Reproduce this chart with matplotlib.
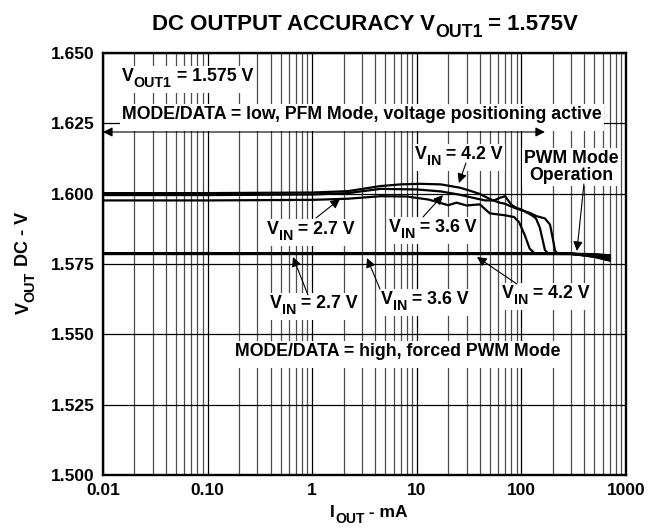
import numpy as np
import matplotlib
matplotlib.use("Agg")
import matplotlib.pyplot as plt
from matplotlib.transforms import IdentityTransform
from matplotlib.patches import Rectangle

plt.rcParams['font.family'] = ['Liberation Sans', 'DejaVu Sans']
plt.rcParams['font.weight'] = 'bold'

# ---------------- data (I in mA, V in volts) ----------------
pfm42_i = [0.01, 0.1, 1, 2.2, 4.5, 7, 10.7, 17, 26, 32, 40, 50, 55, 62, 70, 78, 87,
           97, 120, 140, 168, 188, 200, 210, 222, 300, 500, 700]
pfm42_v = [1.6002, 1.6002, 1.6004, 1.6009, 1.6027, 1.6033, 1.6035, 1.6033, 1.6021, 1.6011,
           1.5999, 1.5981, 1.5975, 1.5968, 1.5964, 1.5956, 1.5949, 1.5943, 1.5932, 1.5920,
           1.5912, 1.5890, 1.5840, 1.5797, 1.5787, 1.5786, 1.5776, 1.5763]

pfm36_i = [0.01, 0.1, 1, 2.2, 4.5, 10, 17, 26, 32, 45, 55, 62, 70, 80, 90, 100, 110,
           125, 138, 150, 160, 168, 180, 300, 500, 700]
pfm36_v = [1.5995, 1.5995, 1.5997, 1.6002, 1.6017, 1.6015, 1.6008, 1.5996, 1.5988, 1.5976,
           1.5976, 1.5985, 1.5991, 1.5961, 1.5949, 1.5944, 1.5935, 1.5924, 1.5912, 1.5880,
           1.5835, 1.5800, 1.5787, 1.5786, 1.5780, 1.5771]

pfm27_i = [0.01, 0.1, 1, 2.2, 4.5, 8, 13, 20, 24, 30, 40, 50, 70, 85, 95, 108, 120,
           135, 300, 500, 700]
pfm27_v = [1.5976, 1.5976, 1.5978, 1.5982, 1.5991, 1.5990, 1.5979, 1.5959, 1.5968, 1.5958,
           1.5962, 1.5930, 1.5923, 1.5917, 1.5899, 1.5852, 1.5805, 1.5786, 1.5786, 1.5784,
           1.5780]

pwm_i = [0.01, 0.1, 1, 10, 100, 300, 500, 700]
pwm27_v = [1.5786, 1.5786, 1.5786, 1.5786, 1.5786, 1.5786, 1.5784, 1.5780]
pwm36_v = [1.5787, 1.5787, 1.5787, 1.5787, 1.5787, 1.5786, 1.5780, 1.5771]
pwm42_v = [1.5788, 1.5788, 1.5788, 1.5788, 1.5788, 1.5787, 1.5776, 1.5763]

xticks = [0.01, 0.1, 1, 10, 100, 1000]
xtick_labels = ['0.01', '0.10', '1', '10', '100', '1000']
yticks = [1.500, 1.525, 1.550, 1.575, 1.600, 1.625, 1.650]
ytick_labels = ['1.500', '1.525', '1.550', '1.575', '1.600', '1.625', '1.650']

# ---------------- figure ----------------
W, H = 652, 529
fig = plt.figure(figsize=(W / 100, H / 100), dpi=100)
ax = fig.add_axes([0.158, 0.1021, 0.802, 0.7977])
ax.set_xscale('log')
ax.set_xlim(0.01, 1000)
ax.set_ylim(1.500, 1.650)

for dec in [0.01, 0.1, 1, 10, 100]:
    for m in range(2, 10):
        ax.axvline(dec * m, color='0.3', lw=0.9, zorder=1)
    ax.axvline(dec, color='black', lw=0.9, zorder=1)
for yv in yticks:
    ax.axhline(yv, color='black', lw=0.9, zorder=1)

for xs, ys in [(pwm_i, pwm27_v), (pwm_i, pwm36_v), (pwm_i, pwm42_v)]:
    ax.plot(xs, ys, color='black', lw=1.9, zorder=3)
for xs, ys in [(pfm27_i, pfm27_v), (pfm36_i, pfm36_v), (pfm42_i, pfm42_v)]:
    ax.plot(xs, ys, color='black', lw=1.6, zorder=3)

ax.set_xticks(xticks)
ax.set_xticklabels(xtick_labels)
ax.set_yticks(yticks)
ax.set_yticklabels(ytick_labels)
ax.minorticks_off()
ax.tick_params(axis='both', length=0, labelsize=12.5, pad=6)
for s in ax.spines.values():
    s.set_linewidth(1.7)
    s.set_zorder(5)

# ---------------- rich text helper (pixel coords of the image, y downward) -------
IDT = IdentityTransform()
renderer = fig.canvas.get_renderer()
PXPT = 100 / 72.0


def text_width(s, fs):
    t1 = fig.text(0, 0, '|' + s + '|', fontsize=fs, fontweight='bold')
    t2 = fig.text(0, 0, '||', fontsize=fs, fontweight='bold')
    w = t1.get_window_extent(renderer).width - t2.get_window_extent(renderer).width
    t1.remove()
    t2.remove()
    return w


def rich(x, y, parts, fs, ha='center', rot=0, box=False, sub_scale=0.8, sub_drop=0.33):
    sizes = [fs * sub_scale if sub else fs for _, sub in parts]
    widths = [text_width(s, f) for (s, _), f in zip(parts, sizes)]
    total = sum(widths)
    cap = 0.716 * fs * PXPT
    drop = sub_drop * fs * PXPT
    if rot == 0:
        base = H - (y + cap / 2)
        x0 = x - total / 2 if ha == 'center' else x
        if box:
            pad = 2
            ax.add_patch(Rectangle((x0 - pad, base - drop - 0.25 * fs * PXPT - 1),
                                   total + 2 * pad, cap + drop + 0.25 * fs * PXPT + pad + 2,
                                   transform=IDT, facecolor='white', edgecolor='none',
                                   zorder=3.6))
        cx = x0
        for (s, sub), f, w in zip(parts, sizes, widths):
            ax.text(cx, base - (drop if sub else 0), s, fontsize=f, fontweight='bold',
                    ha='left', va='baseline', transform=IDT, zorder=4, clip_on=False)
            cx += w
    else:
        bx = x + cap / 2
        Y0 = (H - y) - total / 2
        cy = Y0
        for (s, sub), f, w in zip(parts, sizes, widths):
            ax.text(bx + (drop if sub else 0), cy, s, fontsize=f, fontweight='bold',
                    ha='left', va='baseline', rotation=90, rotation_mode='anchor',
                    transform=IDT, zorder=4, clip_on=False)
            cy += w


def px(x, y):
    I = 10 ** ((x - 103) / 104.6 - 2)
    V = 1.650 - (y - 53) * 0.150 / 422
    return I, V


arr = dict(arrowstyle='-|>', color='black', lw=0.8, mutation_scale=14,
           shrinkA=0, shrinkB=0)


def arrow(p0, p1):
    ax.annotate('', xy=px(*p1), xytext=px(*p0), arrowprops=arr, zorder=4)


FS = 12.8
# title and axis labels
rich(365, 22, [('DC OUTPUT ACCURACY V', False), ('OUT1', True), (' = 1.575V', False)], 16)
rich(369, 511, [('I', False), ('OUT', True), (' - mA', False)], 12.5)
rich(22, 263, [('V', False), ('OUT', True), (' DC - V', False)], 13, rot=90)

rich(122, 75, [('V', False), ('OUT1', True), (' = 1.575 V', False)], FS, ha='left', box=True)
rich(122, 113, [('MODE/DATA = low, PFM Mode, voltage positioning active', False)], FS,
     ha='left', box=True)
ax.annotate('', xy=px(545, 132), xytext=px(103, 132),
            arrowprops=dict(arrowstyle='<|-|>', color='black', lw=0.8,
                            mutation_scale=14, shrinkA=0, shrinkB=0), zorder=4)

rich(459, 153, [('V', False), ('IN', True), (' = 4.2 V', False)], FS, box=True)
arrow((466, 163), (459, 183))
ax.text(*px(571, 167), 'PWM Mode\nOperation', ha='center', va='center', fontsize=FS,
        fontweight='bold', bbox=dict(facecolor='white', edgecolor='none', pad=1.0),
        zorder=4, linespacing=1.05)
arrow((584, 184), (577, 251))

rich(311, 228, [('V', False), ('IN', True), (' = 2.7 V', False)], FS, box=True)
arrow((316, 218), (340, 199))
rich(433, 226, [('V', False), ('IN', True), (' = 3.6 V', False)], FS, box=True)
arrow((423, 217), (443, 195))

rich(314, 302, [('V', False), ('IN', True), (' = 2.7 V', False)], FS, box=True)
arrow((308, 295), (293, 257))
rich(425, 298, [('V', False), ('IN', True), (' = 3.6 V', False)], FS, box=True)
arrow((380, 289), (367, 258))
rich(546, 292, [('V', False), ('IN', True), (' = 4.2 V', False)], FS, box=True)
arrow((517, 284), (477, 257))

rich(235, 350, [('MODE/DATA = high, forced PWM Mode', False)], FS, ha='left', box=True)

ax.set_xlim(0.01, 1000)
ax.set_ylim(1.500, 1.650)
fig.savefig('out.png', dpi=100)
